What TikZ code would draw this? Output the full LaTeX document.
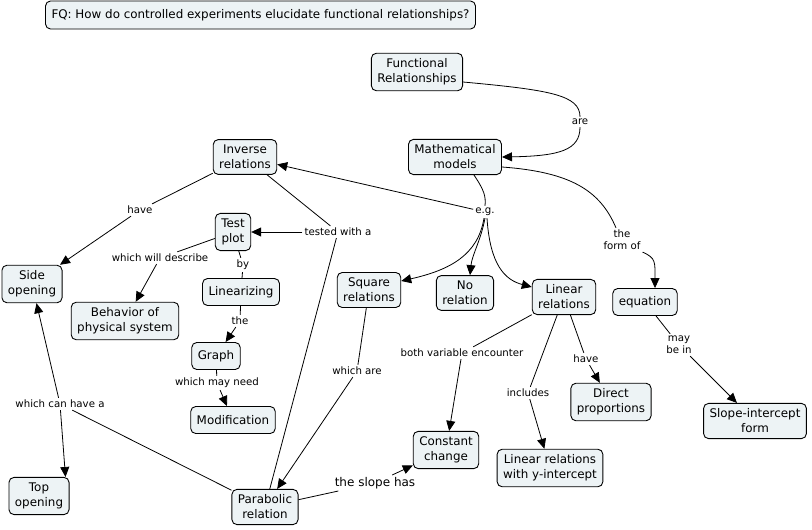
\documentclass[tikz,border=0pt]{standalone}
\usepackage{fontspec}
\setmainfont{DejaVu Sans}
\usetikzlibrary{arrows.meta, positioning}
\definecolor{conceptfill}{RGB}{237,243,245}

\begin{document}
\begin{tikzpicture}[x=1pt, y=-1pt, >={Triangle[length=10pt,width=9pt]}]
    \tikzstyle{concept} = [draw, line width=0.9pt, rounded corners=5pt,
	fill=conceptfill, align=center, inner xsep=6pt, inner ysep=5.5pt,
	minimum height=27pt, font=\fontsize{11.9}{15}\selectfont]
    \tikzstyle{phrase} = [inner sep=2pt, align=center,
	font=\fontsize{10.2}{12}\selectfont]
    \tikzstyle{link} = [line width=0.8pt]

	\useasboundingbox (0,0) rectangle (812,530);

	% concepts
	\node[concept, minimum height=28pt] (fq) at (260.5,15)
		{FQ: How do controlled experiments elucidate functional relationships?};
	\node[concept] (fr) at (417,72) {Functional\\Relationships};
	\node[concept] (mm) at (455,157) {Mathematical\\models};
	\node[concept] (inv) at (245,157) {Inverse\\relations};
	\node[concept] (test) at (233,232) {Test\\plot};
	\node[concept] (side) at (32,284) {Side\\opening};
	\node[concept] (behavior) at (125,321) {Behavior of\\physical system};
	\node[concept] (linearizing) at (241,292) {Linearizing};
	\node[concept] (graph) at (216,356) {Graph};
	\node[concept] (modif) at (233,420) {Modification};
	\node[concept] (square) at (369,290) {Square\\relations};
	\node[concept] (norel) at (465,293) {No\\relation};
	\node[concept] (linear) at (564,297) {Linear\\relations};
	\node[concept] (eq) at (645,302) {equation};
	\node[concept] (direct) at (611,402) {Direct\\proportions};
	\node[concept] (slopeint) at (755,421) {Slope-intercept\\form};
	\node[concept] (const) at (446,450) {Constant\\change};
	\node[concept] (yint) at (550,468) {Linear relations\\with y-intercept};
	\node[concept] (topop) at (39,496) {Top\\opening};
	\node[concept] (para) at (265,507) {Parabolic\\relation};

	% linking phrases
	\node[phrase] (are) at (580,122) {are};
	\node[phrase] (eg) at (485,212) {e.g.};
	\node[phrase] (formof) at (622,240) {the\\form of};
	\node[phrase] (maybein) at (679,345) {may\\be in};
	\node[phrase] (testedwith) at (338,232) {tested with a};
	\node[phrase] (haveside) at (140,210) {have};
	\node[phrase] (describe) at (160,258) {which will describe};
	\node[phrase] (by) at (243,265) {by};
	\node[phrase] (the) at (240,321) {the};
	\node[phrase] (mayneed) at (217,383) {which may need};
	\node[phrase] (whichare) at (357,371) {which are};
	\node[phrase] (canhave) at (60,404) {which can have a};
	\node[phrase, font=\fontsize{12}{14}\selectfont] (slopehas) at (375,483) {the slope has};
	\node[phrase] (bothvar) at (462,353) {both variable encounter};
	\node[phrase] (includes) at (528,393) {includes};
	\node[phrase] (havedirect) at (586,359) {have};

	% curved links
	\draw[link] ([yshift=-10pt]fr.east) .. controls (550,90) and (580,95) .. (are.north);
	\draw[link, ->] (are.south) .. controls (580,150) and (560,156) .. (mm.east);
	\draw[link] ([xshift=19pt]mm.south) .. controls (484,190) and (486,196) .. (eg.north);
	\draw[link, ->] ([xshift=-1pt]eg.south) .. controls (478,255) and (450,270) .. ([yshift=9pt]square.east);
	\draw[link, ->] (eg.south) .. controls (481,240) and (472,255) .. ([xshift=5pt]norel.north);
	\draw[link, ->] ([xshift=2pt]eg.south) .. controls (490,265) and (505,280) .. ([yshift=10pt]linear.west);
	\draw[link] ([yshift=-10pt]mm.east) .. controls (570,172) and (600,190) .. ([xshift=-6pt]formof.north);
	\draw[link, ->] (formof.south east) .. controls (656,258) and (655,262) .. ([xshift=10pt]eq.north);

	% straight links
	\path[link]
		(eg) edge[->] (inv)
		(inv) edge (testedwith)
		(para) edge (testedwith)
		(testedwith) edge[->] (test)
		(inv) edge (haveside)
		(haveside) edge[->] (side)
		(test) edge (describe)
		(describe) edge[->] (behavior)
		(test) edge (by)
		(by) edge (linearizing)
		(linearizing) edge (the)
		(the) edge[->] (graph)
		(graph) edge (mayneed)
		(mayneed) edge[->] (modif)
		(square) edge (whichare)
		(whichare) edge[->] (para)
		(para) edge (slopehas)
		(slopehas) edge[->] (const)
		(linear) edge (bothvar)
		(bothvar) edge[->] (const)
		(linear) edge (includes)
		(includes) edge[->] (yint)
		(linear) edge (havedirect)
		(havedirect) edge[->] (direct)
		(eq) edge (maybein)
		(maybein) edge[->] (slopeint)
		(para) edge (canhave)
		(canhave) edge[->] (side)
		(canhave) edge[->] ([xshift=-4pt]topop.north east)
	;
\end{tikzpicture}
\end{document}
